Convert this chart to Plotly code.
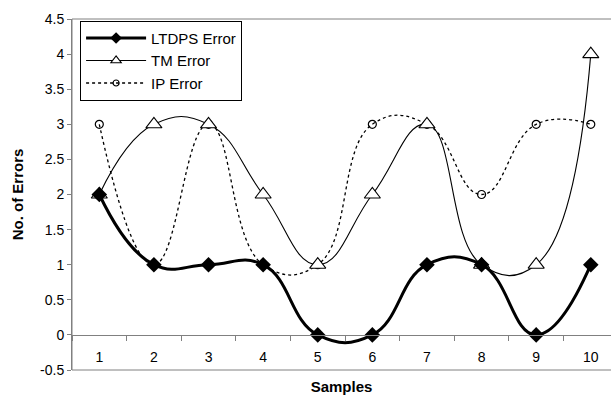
import plotly.graph_objects as go

samples = [1, 2, 3, 4, 5, 6, 7, 8, 9, 10]
ltdps_error = [2, 1, 1, 1, 0, 0, 1, 1, 0, 1]
tm_error = [2, 3, 3, 2, 1, 2, 3, 1, 1, 4]
ip_error = [3, 1, 3, 1, 1, 3, 3, 2, 3, 3]
y_ticks = [-0.5, 0, 0.5, 1, 1.5, 2, 2.5, 3, 3.5, 4, 4.5]
y_tick_text = ["-0.5", "0", "0.5", "1", "1.5", "2", "2.5", "3", "3.5", "4", "4.5"]

FONT = "Liberation Sans"
SMOOTH = 1.3

fig = go.Figure()
# data traces (legend entries drawn by small-marker twins below)
fig.add_trace(go.Scatter(
    x=samples, y=ip_error, name="IP Error", mode="lines+markers", showlegend=False,
    line=dict(color="black", width=1.3, dash="dot", shape="spline", smoothing=SMOOTH),
    marker=dict(symbol="circle-open", size=8, color="black", line=dict(width=1.2)),
))
fig.add_trace(go.Scatter(
    x=samples, y=tm_error, name="TM Error", mode="lines+markers", showlegend=False,
    line=dict(color="black", width=1.1, shape="spline", smoothing=SMOOTH),
    marker=dict(symbol="triangle-up", size=14, color="white", line=dict(width=1.1, color="black")),
))
fig.add_trace(go.Scatter(
    x=samples, y=ltdps_error, name="LTDPS Error", mode="lines+markers", showlegend=False,
    line=dict(color="black", width=3, shape="spline", smoothing=SMOOTH),
    marker=dict(symbol="diamond", size=12, color="black"),
))
# legend entries
fig.add_trace(go.Scatter(
    x=[None], y=[None], name="LTDPS Error", mode="lines+markers",
    line=dict(color="black", width=3), marker=dict(symbol="diamond", size=9, color="black"),
))
fig.add_trace(go.Scatter(
    x=[None], y=[None], name="TM Error", mode="lines+markers",
    line=dict(color="black", width=1.1),
    marker=dict(symbol="triangle-up", size=9, color="white", line=dict(width=1.1, color="black")),
))
fig.add_trace(go.Scatter(
    x=[None], y=[None], name="IP Error", mode="lines+markers",
    line=dict(color="black", width=1.3, dash="dot"),
    marker=dict(symbol="circle-open", size=6, color="black", line=dict(width=1.2)),
))

fig.update_layout(
    width=611, height=397,
    margin=dict(l=72, r=0, t=19, b=27),
    plot_bgcolor="white", paper_bgcolor="white",
    font=dict(family=FONT, size=13, color="black"),
    showlegend=True,
    legend=dict(
        x=0.015, y=0.995, xanchor="left", yanchor="top",
        bgcolor="white", bordercolor="black", borderwidth=1,
        font=dict(family=FONT, size=15),
        itemwidth=60, tracegroupgap=0,
    ),
    xaxis=dict(
        range=[0.5, 10.37], anchor="free", position=0.1,
        tickmode="array", tickvals=samples, ticktext=[str(s) for s in samples],
        ticks="", showgrid=False, zeroline=False,
        showline=True, linecolor="#808080", linewidth=1,
        ticklabelstandoff=9,
        tickfont=dict(family=FONT, size=14),
        minor=dict(tickmode="array", tickvals=[i + 0.5 for i in range(0, 11)],
                   ticks="outside", ticklen=5, tickcolor="#808080", showgrid=False),
        title=dict(text="<b>Samples</b>", font=dict(family=FONT, size=15), standoff=17),
    ),
    yaxis=dict(
        range=[-0.5, 4.5], tickmode="array", tickvals=y_ticks, ticktext=y_tick_text,
        ticks="outside", ticklen=4, tickcolor="#808080",
        showgrid=False, zeroline=False,
        showline=True, linecolor="#808080", linewidth=1,
        tickfont=dict(family=FONT, size=14),
        title=dict(text="<b>No. of Errors</b>", font=dict(family=FONT, size=15), standoff=12),
    ),
    shapes=[dict(type="rect", xref="paper", yref="paper", x0=0, x1=1.2, y0=0, y1=1,
                 line=dict(color="#808080", width=1), layer="below")],
)

fig.write_html("out.html")
